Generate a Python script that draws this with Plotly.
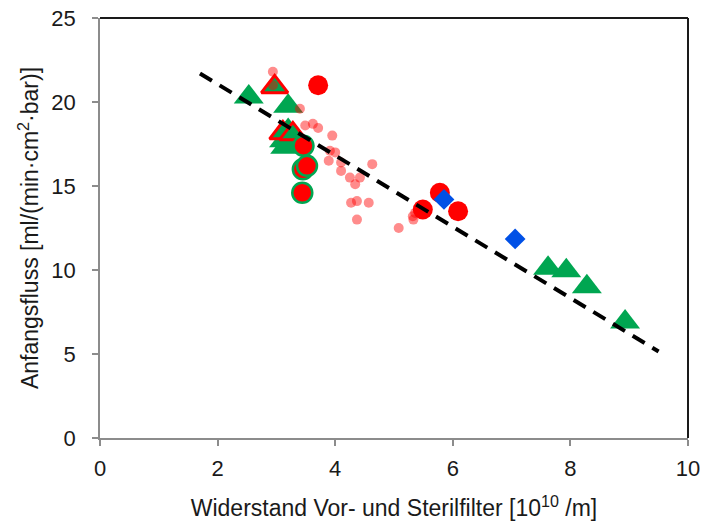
import plotly.graph_objects as go

# Small translucent points
pink_x = [2.94, 2.94, 3.40, 3.49, 3.62, 3.71, 3.95, 3.91, 4.00, 3.89, 4.10, 4.10, 4.63,
          4.25, 4.42, 4.34, 4.27, 4.37, 4.57, 4.37, 5.08, 5.32, 5.36, 5.33]
pink_y = [21.8, 21.0, 19.6, 18.6, 18.7, 18.45, 18.0, 17.1, 17.0, 16.5, 16.4, 15.9, 16.3,
          15.5, 15.5, 15.1, 14.0, 14.1, 14.0, 13.0, 12.5, 13.2, 13.4, 13.0]

# Green triangles
tri_x = [2.53, 3.20, 3.20, 3.13, 3.15, 7.62, 7.93, 8.28, 8.93]
tri_y = [20.3, 19.75, 18.3, 17.7, 17.3, 10.1, 9.95, 9.0, 6.9]

# Green triangles with red outline
tri_red_x = [2.97, 3.11, 3.28]
tri_red_y = [20.9, 18.15, 18.1]

# Red circles
red_x = [3.71, 5.78, 5.49, 6.09]
red_y = [21.0, 14.6, 13.6, 13.5]

# Red circles with green outline
redg_x = [3.46, 3.45, 3.52, 3.44]
redg_y = [17.4, 16.0, 16.2, 14.6]

# Blue diamonds
dia_x = [5.85, 7.06]
dia_y = [14.2, 11.85]

# Trend line
trend_x = [1.7, 9.5]
trend_y = [21.7, 5.15]

RED = "#ff0000"
GREEN = "#00a651"
BLUE = "#0050e6"
FONT = "Liberation Sans, Arial, sans-serif"

fig = go.Figure()
fig.add_trace(go.Scatter(x=tri_x, y=tri_y, mode="markers",
                         marker=dict(symbol="triangle-up", size=26, color=GREEN,
                                     line=dict(width=0))))
fig.add_trace(go.Scatter(x=tri_red_x, y=tri_red_y, mode="markers",
                         marker=dict(symbol="triangle-up", size=23, color=GREEN,
                                     line=dict(width=3, color=RED))))
fig.add_trace(go.Scatter(x=pink_x, y=pink_y, mode="markers",
                         marker=dict(symbol="circle", size=10, color="rgba(255,0,0,0.45)",
                                     line=dict(width=0))))
fig.add_trace(go.Scatter(x=red_x, y=red_y, mode="markers",
                         marker=dict(symbol="circle", size=20, color=RED,
                                     line=dict(width=0))))
fig.add_trace(go.Scatter(x=redg_x, y=redg_y, mode="markers",
                         marker=dict(symbol="circle", size=20, color=RED,
                                     line=dict(width=2.5, color=GREEN))))
fig.add_trace(go.Scatter(x=dia_x, y=dia_y, mode="markers",
                         marker=dict(symbol="diamond", size=16, color=BLUE,
                                     line=dict(width=0))))
fig.add_trace(go.Scatter(x=trend_x, y=trend_y, mode="lines",
                         line=dict(color="black", width=4, dash="14px,9px")))

axis_common = dict(
    showgrid=False, zeroline=False, showline=True, linecolor="#8c8c8c", linewidth=1.5,
    ticks="outside", ticklen=6, tickcolor="#8c8c8c", tickwidth=1.5, automargin=False,
    tickfont=dict(family=FONT, size=22, color="#1a1a1a"),
)

fig.update_layout(
    width=705, height=522,
    margin=dict(l=100, r=17, t=18, b=84),
    paper_bgcolor="white", plot_bgcolor="white",
    showlegend=False,
    font=dict(family=FONT, size=22, color="#1a1a1a"),
    xaxis=dict(range=[0, 10], tickvals=[0, 2, 4, 6, 8, 10], ticktext=["0", "2", "4", "6", "8", "10"],
               ticklabelstandoff=4,
               title=dict(text="Widerstand Vor- und Sterilfilter [10<sup>10</sup> /m]",
                          font=dict(size=23), standoff=20),
               **axis_common),
    yaxis=dict(range=[0, 25], tickvals=[0, 5, 10, 15, 20, 25], ticktext=["0", "5", "10", "15", "20", "25"],
               ticklabelstandoff=12,
               title=dict(text="Anfangsfluss [ml/(min·cm<sup>2</sup>·bar)]",
                          font=dict(size=23), standoff=6),
               **axis_common),
    shapes=[
        dict(type="line", xref="paper", yref="paper", x0=0, x1=1, y0=1, y1=1,
             line=dict(color="#1a1a1a", width=2)),
        dict(type="line", xref="paper", yref="paper", x0=1, x1=1, y0=0, y1=1,
             line=dict(color="#1a1a1a", width=2)),
    ],
)

fig.write_html("out.html")
